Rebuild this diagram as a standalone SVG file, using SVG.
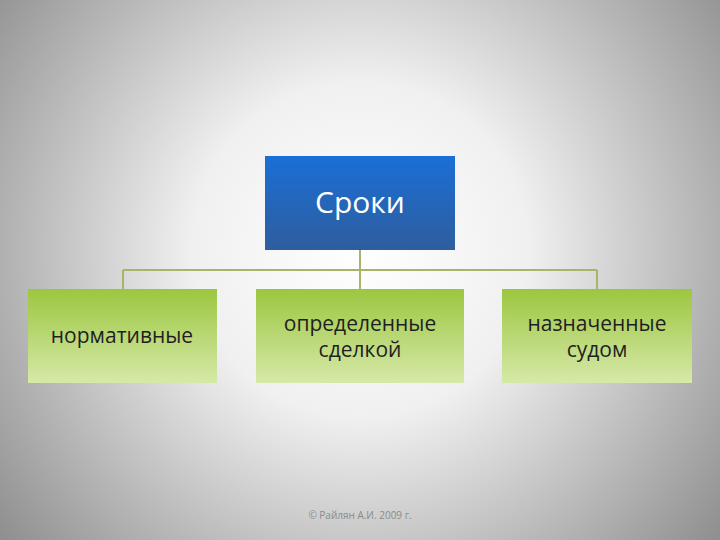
<svg xmlns="http://www.w3.org/2000/svg" width="720" height="540" viewBox="0 0 720 540">
<defs>
<radialGradient id="bg" cx="360" cy="250" r="480" gradientUnits="userSpaceOnUse">
<stop offset="0" stop-color="#ffffff"/><stop offset="0.35" stop-color="#f0f0f0"/><stop offset="1" stop-color="#888888"/>
</radialGradient>
<linearGradient id="blue" x1="0" y1="0" x2="0" y2="1"><stop offset="0" stop-color="#1a6fd6"/><stop offset="1" stop-color="#2f5d9e"/></linearGradient>
<linearGradient id="green" x1="0" y1="0" x2="0" y2="1"><stop offset="0" stop-color="#9cc640"/><stop offset="1" stop-color="#d6e9a8"/></linearGradient>
<style>
.t{font-family:"Open Sans","DejaVu Sans",sans-serif;text-anchor:middle}
.g{font-size:21px;fill:#1f1f1f}
.c{stroke:#a8b46a;stroke-width:2;fill:none}
</style>
</defs>
<rect width="720" height="540" fill="url(#bg)"/>
<g id="connectors">
<path class="c" d="M360 250V289M123 270H597M123 270V289M597 270V289"/>
</g>
<g id="n0"><rect x="265" y="156" width="190" height="94" fill="url(#blue)"/><text class="t" x="360" y="213" font-size="30" fill="#fff">Сроки</text></g>
<g id="n1"><rect x="28" y="289" width="189" height="94" fill="url(#green)"/><text class="t g" x="122" y="343">нормативные</text></g>
<g id="n2"><rect x="256" y="289" width="208" height="94" fill="url(#green)"/><text class="t g" x="360" y="331">определенные</text><text class="t g" x="360" y="357">сделкой</text></g>
<g id="n3"><rect x="502" y="289" width="190" height="94" fill="url(#green)"/><text class="t g" x="597" y="331">назначенные</text><text class="t g" x="597" y="357">судом</text></g>
<text class="t" x="360" y="519" font-size="10" fill="#8a8a8a">© Райлян А.И. 2009 г.</text>
</svg>
